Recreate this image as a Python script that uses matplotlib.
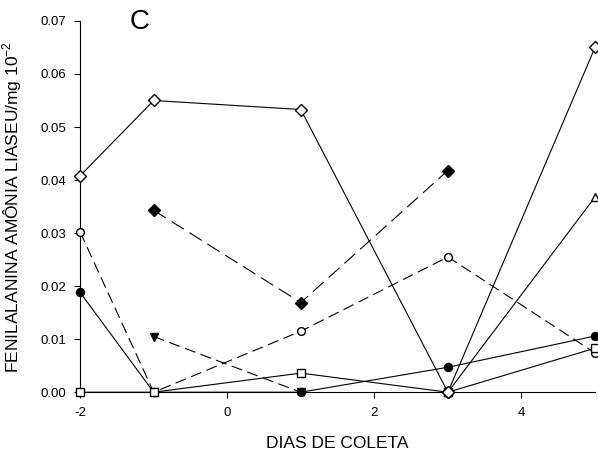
import matplotlib.pyplot as plt
import numpy as np

plt.rcParams['font.family'] = ['Liberation Sans', 'DejaVu Sans']

# dias de coleta
x_all = [-2, -1, 1, 3, 5]

diamond_open = [0.0408, 0.0550, 0.0533, 0.0, 0.0650]
diamond_fill_x = [-1, 1, 3]
diamond_fill = [0.0343, 0.0169, 0.0418]
circle_open = [0.0302, 0.0, 0.0115, 0.0255, 0.0074]
circle_fill = [0.0188, 0.0, 0.0, 0.0047, 0.0106]
tri_down_x = [-1, 1]
tri_down = [0.0105, 0.0]
square_open = [0.0, 0.0, 0.0036, 0.0, 0.0083]
tri_up_x = [3, 5]
tri_up = [0.0, 0.0368]

xtick_vals = [-2, 0, 2, 4]
xtick_labels = ['-2', '0', '2', '4']

fig = plt.figure(figsize=(5.98, 4.55), dpi=100)
ax = fig.add_axes([0.134, 0.138, 0.861, 0.816])

lw = 0.8
ax.plot(x_all, diamond_open, '-', color='k', lw=lw, marker='D', ms=6.3, mfc='white', mec='k', clip_on=False, zorder=3)
ax.plot(diamond_fill_x, diamond_fill, color='k', lw=lw, dashes=(13, 6), marker='D', ms=6.3, mfc='k', mec='k', clip_on=False, zorder=3)
ax.plot(x_all, circle_open, color='k', lw=lw, dashes=(10, 5), marker='o', ms=5.6, mfc='white', mec='k', clip_on=False, zorder=3)
ax.plot(x_all, circle_fill, '-', color='k', lw=lw, marker='o', ms=5.8, mfc='k', mec='k', clip_on=False, zorder=3)
ax.plot(tri_down_x, tri_down, color='k', lw=lw, dashes=(10, 5), marker='v', ms=6.3, mfc='k', mec='k', clip_on=False, zorder=3)
ax.plot(x_all, square_open, '-', color='k', lw=lw, marker='s', ms=5.6, mfc='white', mec='k', clip_on=False, zorder=4)
ax.plot(tri_up_x, tri_up, '-', color='k', lw=lw, marker='^', ms=6.3, mfc='white', mec='k', clip_on=False, zorder=3)
# open diamond at day 3 drawn on top
ax.plot([3], [0.0], marker='D', ms=6.3, mfc='white', mec='k', ls='none', clip_on=False, zorder=5)

ax.set_xlim(-2, 5)
ax.set_ylim(0, 0.07)
ax.set_xticks(xtick_vals)
ax.set_xticklabels(xtick_labels)
ax.set_yticks(np.arange(0, 0.071, 0.01))
ax.yaxis.set_major_formatter(plt.FormatStrFormatter('%.2f'))
ax.spines['top'].set_visible(False)
ax.spines['right'].set_visible(False)
ax.spines['left'].set_linewidth(0.8)
ax.spines['bottom'].set_linewidth(0.8)
ax.tick_params(direction='out', length=4, width=0.8, labelsize=9.5)
ax.tick_params(axis='x', pad=7)
ax.tick_params(axis='y', pad=6)

ax.set_xlabel('DIAS DE COLETA', fontsize=12.5, labelpad=12)
ax.set_ylabel('FENILALANINA AMÔNIA LIASEU/mg 10$^{\\mathregular{-2}}$', fontsize=12.5, labelpad=12)
ax.text(0.115, 0.997, 'C', transform=ax.transAxes, fontsize=20, ha='center', va='center')

fig.savefig('out.png', dpi=100)
